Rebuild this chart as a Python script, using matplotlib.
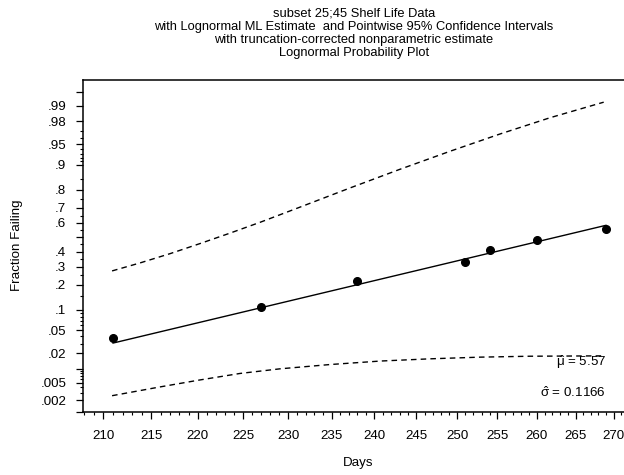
import numpy as np
import matplotlib
matplotlib.use("Agg")
import matplotlib.pyplot as plt
from matplotlib.ticker import FixedLocator, FixedFormatter, NullFormatter
from statistics import NormalDist

plt.rcParams['font.family'] = ['Liberation Sans', 'DejaVu Sans']
plt.rcParams['mathtext.fontset'] = 'custom'
plt.rcParams['mathtext.rm'] = 'Liberation Sans'
plt.rcParams['mathtext.it'] = 'Liberation Sans'

# data
days = [211, 227, 238, 251, 254, 260, 269]
frac = [0.037, 0.110, 0.220, 0.332, 0.412, 0.482, 0.559]

mu_hat = 5.57
sigma_hat = 0.1166
fit_days = [211, 269]

upper_days = [210.9, 213.8, 217.0, 220.2, 223.5, 226.9, 231.4, 237.1, 243.0,
              249.1, 255.3, 261.7, 268.7]
upper_frac = [0.276, 0.3246, 0.3859, 0.455, 0.529, 0.6056, 0.704, 0.8081,
              0.8851, 0.9359, 0.9661, 0.9828, 0.99157]
lower_days = [210.9, 215.9, 220.2, 224.6, 229.1, 234.8, 240.7, 246.7, 252.8,
              259.1, 268.9]
lower_frac = [0.00254, 0.00405, 0.0058, 0.0080, 0.0100, 0.0122, 0.0143, 0.0158,
              0.0170, 0.0177, 0.0180]

ytick_vals = [0.001, 0.002, 0.005, 0.01, 0.02, 0.05, 0.1, 0.2, 0.3, 0.4, 0.5,
              0.6, 0.7, 0.8, 0.9, 0.95, 0.98, 0.99, 0.995]
ytick_labels = ['', '.002', '.005', '', '.02', '.05', '.1', '.2', '.3', '.4', '',
                '.6', '.7', '.8', '.9', '.95', '.98', '.99', '']
yminor_vals = [0.003, 0.004, 0.006, 0.007, 0.008, 0.009, 0.03, 0.04, 0.06, 0.07,
               0.08, 0.09, 0.15, 0.25, 0.35, 0.45, 0.55, 0.65, 0.75, 0.85,
               0.91, 0.92, 0.93, 0.94, 0.96, 0.97]
xtick_vals = list(range(210, 271, 5))
xminor_vals = list(range(208, 273))

nd = NormalDist()


def probit(p):
    p = np.clip(np.asarray(p, dtype=float), 1e-9, 1 - 1e-9)
    return np.vectorize(nd.inv_cdf)(p)


def cdf(z):
    return np.vectorize(nd.cdf)(np.asarray(z, dtype=float))


fig = plt.figure(figsize=(6.24, 4.75), dpi=100)
ax = fig.add_axes([83 / 624, 1 - 412 / 475, 1 - 83 / 624, (412 - 80) / 475])
ax.set_xscale('log')
ax.set_yscale('function', functions=(probit, cdf))

t = np.linspace(fit_days[0], fit_days[1], 50)
ax.plot(t, cdf((np.log(t) - mu_hat) / sigma_hat), color='black', lw=1.0)
ax.plot(upper_days, upper_frac, color='black', lw=1.0, ls=(0, (4, 3)))
ax.plot(lower_days, lower_frac, color='black', lw=1.0, ls=(0, (4, 3)))
ax.plot(days, frac, 'o', color='black', ms=5.5)

ax.set_xlim(207.9, 271.4)
ax.set_ylim(0.001, 0.9973)

ax.xaxis.set_major_locator(FixedLocator(xtick_vals))
ax.xaxis.set_major_formatter(FixedFormatter([str(v) for v in xtick_vals]))
ax.xaxis.set_minor_locator(FixedLocator(xminor_vals))
ax.xaxis.set_minor_formatter(NullFormatter())
ax.yaxis.set_major_locator(FixedLocator(ytick_vals))
ax.yaxis.set_major_formatter(FixedFormatter(ytick_labels))
ax.yaxis.set_minor_locator(FixedLocator(yminor_vals))
ax.yaxis.set_minor_formatter(NullFormatter())

ax.tick_params(which='major', length=5, width=0.9, labelsize=9.6)
ax.tick_params(axis='y', which='major', pad=7)
ax.tick_params(axis='x', which='major', pad=8)
ax.tick_params(which='minor', length=2.5, width=0.8)
ax.spines['right'].set_visible(False)
for s in ['left', 'top', 'bottom']:
    ax.spines[s].set_linewidth(1.1)

fig.text(358 / 624, 1 - 463 / 475, 'Days', fontsize=9.6, ha='center', va='center')
fig.text(17 / 624, 1 - 245 / 475, 'Fraction Failing', fontsize=9.6,
         ha='center', va='center', rotation=90)
fig.text(354 / 624, 1 - 7.5 / 475,
         'subset 25;45 Shelf Life Data\n'
         'with Lognormal ML Estimate  and Pointwise 95% Confidence Intervals\n'
         'with truncation-corrected nonparametric estimate\n'
         'Lognormal Probability Plot',
         fontsize=9.3, ha='center', va='top', linespacing=1.14)

ax.text(269.0, 0.01142, r'$\hat{\mathrm{\mu}}$ = 5.57', fontsize=9.6,
        ha='right', va='baseline')
ax.text(269.0, 0.00236, r'$\hat{\mathrm{\sigma}}$ = 0.1166', fontsize=9.6,
        ha='right', va='baseline')

fig.savefig('out.png', dpi=100)
